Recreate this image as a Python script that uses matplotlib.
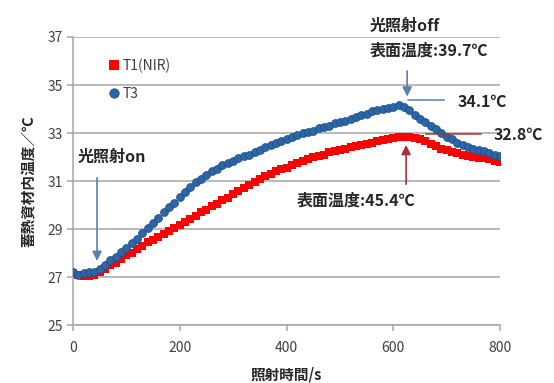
import matplotlib
matplotlib.use("Agg")
import matplotlib.pyplot as plt

plt.rcParams['font.family'] = ['Noto Sans CJK JP', 'DejaVu Sans']

# Sampling times (s) and temperatures (degC)
time_s = list(range(0, 801, 10))

t3 = [27.2, 27.1, 27.15, 27.2, 27.2, 27.35, 27.5, 27.7, 27.85, 28.05,
      28.2, 28.4, 28.6, 28.85, 29.05, 29.25, 29.45, 29.7, 29.9, 30.1,
      30.35, 30.55, 30.75, 30.95, 31.1, 31.25, 31.4, 31.5, 31.65, 31.75,
      31.85, 31.95, 32.05, 32.1, 32.2, 32.3, 32.4, 32.5, 32.6, 32.65,
      32.75, 32.85, 32.9, 33.0, 33.05, 33.1, 33.2, 33.25, 33.3, 33.4,
      33.45, 33.5, 33.6, 33.65, 33.75, 33.8, 33.9, 33.95, 34.0, 34.05,
      34.1, 34.15, 34.1, 33.95, 33.75, 33.6, 33.45, 33.3, 33.15, 33.0,
      32.85, 32.75, 32.6, 32.5, 32.4, 32.35, 32.3, 32.25, 32.15, 32.1,
      32.05]

t1 = [27.15, 27.1, 27.05, 27.05, 27.1, 27.2, 27.35, 27.5, 27.6, 27.75,
      27.9, 28.0, 28.15, 28.3, 28.45, 28.55, 28.65, 28.8, 28.9, 29.05,
      29.15, 29.3, 29.4, 29.55, 29.7, 29.8, 29.95, 30.05, 30.2, 30.3,
      30.45, 30.6, 30.7, 30.85, 30.95, 31.1, 31.2, 31.3, 31.4, 31.5,
      31.55, 31.65, 31.75, 31.85, 31.9, 32.0, 32.05, 32.1, 32.2, 32.25,
      32.3, 32.35, 32.4, 32.45, 32.5, 32.55, 32.6, 32.65, 32.7, 32.75,
      32.8, 32.85, 32.85, 32.85, 32.8, 32.75, 32.65, 32.55, 32.45, 32.35,
      32.3, 32.2, 32.15, 32.1, 32.05, 32.0, 31.95, 31.95, 31.9, 31.85,
      31.8]

x_ticks = [0, 200, 400, 600, 800]
y_ticks = [25, 27, 29, 31, 33, 35, 37]

text_col = '#262626'
axis_col = '#a6a6a6'
blue_arrow = '#5b7fb0'
red_arrow = '#a8323c'

fig = plt.figure(figsize=(5.54, 3.83), dpi=100)
ax = fig.add_axes([0.1318, 0.1514, 0.7708, 0.752])

ax.plot(time_s, t1, linestyle='none', marker='s', markersize=6.3,
        color='#ff0000', markeredgewidth=0, label='T1(NIR)', zorder=3)
ax.plot(time_s, t3, linestyle='none', marker='o', markersize=5.6,
        color='#2b67a8', markeredgecolor='#1f4f86', markeredgewidth=0.6,
        label='T3', zorder=4)

ax.set_xlim(0, 800)
ax.set_ylim(25, 37)
ax.set_xticks(x_ticks)
ax.set_yticks(y_ticks)
ax.grid(axis='y', color=axis_col, linewidth=1.1)
ax.set_axisbelow(True)
for s in ['top', 'right']:
    ax.spines[s].set_visible(False)
for s in ['left', 'bottom']:
    ax.spines[s].set_color(axis_col)
    ax.spines[s].set_linewidth(1.1)
ax.tick_params(axis='both', colors=axis_col, length=4.5, width=1.1,
               labelsize=10, labelcolor='#404040')
ax.tick_params(axis='x', pad=7)
ax.tick_params(axis='y', pad=3)

ax.set_xlabel('照射時間/s', fontsize=10.5, fontweight='bold',
              color=text_col, labelpad=8)
ax.set_ylabel('蓄熱資材内温度／℃', fontsize=10.5, fontweight='bold',
              color=text_col, labelpad=8)

ax.legend(loc='upper left', bbox_to_anchor=(0.055, 0.97), frameon=False,
          fontsize=10, handlelength=0.7, handletextpad=0.3,
          labelspacing=1.0, numpoints=1, markerscale=1.2,
          labelcolor='#404040')

# light on
ax.text(8, 32.0, '光照射on', fontsize=11.5, fontweight='bold',
        color=text_col, va='center', ha='left')
ax.annotate('', xy=(45, 27.55), xytext=(45, 31.25),
            arrowprops=dict(arrowstyle='-|>', color=blue_arrow, lw=1.2,
                            mutation_scale=14))

# light off
ax.text(555, 37.45, '光照射off', fontsize=11.5, fontweight='bold',
        color=text_col, va='center', ha='left', clip_on=False)
ax.text(555, 36.42, '表面温度:39.7℃', fontsize=11.5, fontweight='bold',
        color=text_col, va='center', ha='left')
ax.annotate('', xy=(626, 34.4), xytext=(626, 35.7),
            arrowprops=dict(arrowstyle='-|>', color=blue_arrow, lw=1.2,
                            mutation_scale=14))

# peak values
ax.plot([628, 695], [34.38, 34.38], color=blue_arrow, lw=1.1, zorder=5)
ax.text(720, 34.3, '34.1℃', fontsize=11.5, fontweight='bold',
        color=text_col, va='center', ha='left', clip_on=False)
ax.plot([662, 764], [32.96, 32.96], color=red_arrow, lw=1.1, zorder=5)
ax.text(788, 32.92, '32.8℃', fontsize=11.5, fontweight='bold',
        color=text_col, va='center', ha='left', clip_on=False)

# surface temperature
ax.annotate('', xy=(624, 32.62), xytext=(624, 30.75),
            arrowprops=dict(arrowstyle='-|>', color=red_arrow, lw=1.2,
                            mutation_scale=14))
ax.text(419, 30.2, '表面温度:45.4℃', fontsize=11.5, fontweight='bold',
        color=text_col, va='center', ha='left')

fig.savefig('out.png', dpi=100)
